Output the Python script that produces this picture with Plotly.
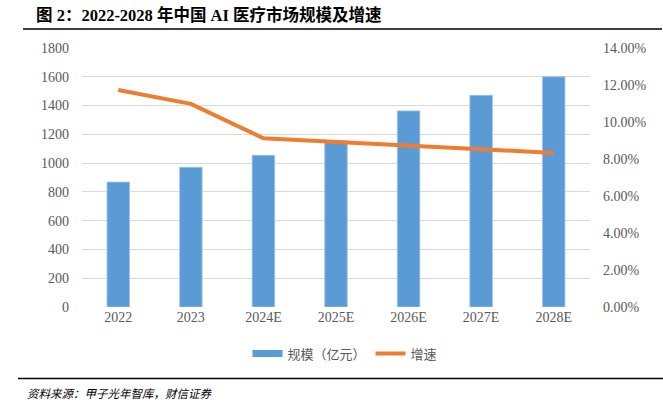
import plotly.graph_objects as go

categories = ["2022", "2023", "2024E", "2025E", "2026E", "2027E", "2028E"]
market_size = [868, 971, 1054, 1154, 1363, 1471, 1600]
growth = [0.1173, 0.1098, 0.0912, 0.0893, 0.0873, 0.0855, 0.0833]

W, H = 663, 415
L, R, T, B = 82, 590, 48, 307.3

def px(x):
    return (x - L) / (R - L)

def py(y):
    return (B - y) / (B - T)

tick_font = dict(family="Liberation Serif, Noto Sans CJK SC", size=14, color="#595959")
BLUE = "#5B9BD5"
ORANGE = "#ED7D31"

fig = go.Figure()
fig.add_trace(go.Bar(
    x=categories, y=market_size, name="规模（亿元）", showlegend=False,
    marker=dict(color=BLUE, line=dict(color="#9DC3E6", width=0.8)),
    width=0.31, yaxis="y",
))
# legend entry for the bars drawn as a wide swatch (as in the reference)
fig.add_trace(go.Scatter(
    x=[None], y=[None], name="规模（亿元）", mode="lines",
    line=dict(color=BLUE, width=7), yaxis="y", hoverinfo="skip",
))
fig.add_trace(go.Scatter(
    x=categories, y=growth, name="增速", mode="lines",
    line=dict(color=ORANGE, width=4), yaxis="y2",
))

fig.update_layout(
    width=W, height=H,
    margin=dict(l=L, r=W - R, t=T, b=H - B),
    paper_bgcolor="white", plot_bgcolor="white",
    showlegend=True,
    legend=dict(orientation="h", x=px(345), y=py(354), xanchor="center", yanchor="middle",
                font=dict(family="Noto Sans CJK SC", size=13, color="#595959"),
                itemwidth=30, traceorder="normal"),
    xaxis=dict(showgrid=False, showline=False, ticks="", tickfont=tick_font,
               range=[-0.5, 6.5]),
    yaxis=dict(range=[0, 1800], dtick=200, showgrid=True, gridcolor="#D9D9D9", gridwidth=1,
               zeroline=False, showline=False, ticks="", tickfont=tick_font,
               ticklabelstandoff=12),
    yaxis2=dict(range=[0, 0.14], dtick=0.02, tickformat=".2%", overlaying="y", side="right",
                showgrid=False, zeroline=False, showline=False, ticks="", tickfont=tick_font,
                ticklabelstandoff=12),
)

# Title
fig.add_annotation(
    text="<b>图 2：2022-2028 年中国 AI 医疗市场规模及增速</b>",
    xref="paper", yref="paper", x=px(34), y=py(15), xanchor="left", yanchor="middle",
    showarrow=False,
    font=dict(family="Liberation Serif, Noto Sans CJK SC", size=16.5, color="#000000"),
)
# Footer
fig.add_annotation(
    text="<i>资料来源：甲子光年智库，财信证券</i>",
    xref="paper", yref="paper", x=px(25), y=py(393), xanchor="left", yanchor="middle",
    showarrow=False,
    font=dict(family="Noto Sans CJK SC", size=11.5, color="#000000"),
)
# Rules
fig.add_shape(type="line", xref="paper", yref="paper", x0=px(23), x1=px(662), y0=py(29), y1=py(29),
              line=dict(color="#000000", width=1.5))
fig.add_shape(type="line", xref="paper", yref="paper", x0=px(18), x1=px(663), y0=py(379), y1=py(379),
              line=dict(color="#000000", width=1.5))

fig.write_html("out.html", config={"displayModeBar": False},
               post_script="document.body.style.margin='0';document.body.style.overflow='hidden';")
